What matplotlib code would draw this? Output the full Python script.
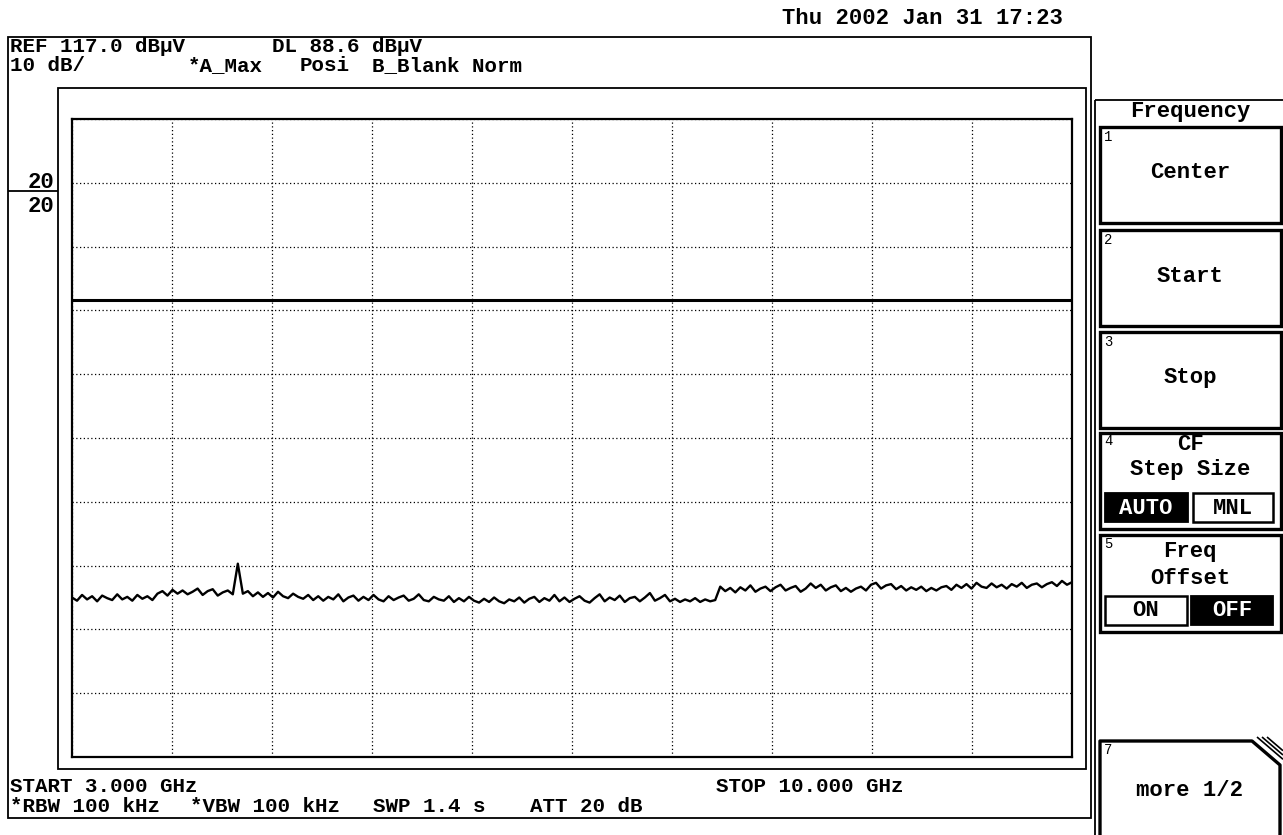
import numpy as np
import matplotlib
matplotlib.use("Agg")
import matplotlib.pyplot as plt
from matplotlib.patches import Rectangle

W, H = 1283, 835
MONO = "Liberation Mono"

REF_LEVEL = 117.0
DB_PER_DIV = 10.0
DIVISIONS = 10
DISPLAY_LINE = 88.6
START_GHZ = 3.0
STOP_GHZ = 10.0

# max-hold trace, dBuV (evenly spaced sweep points)
TRACE_DBUV = [
    42.0, 41.5, 42.4, 41.7, 42.2, 41.4, 42.3, 41.9, 41.6, 42.5,
    41.7, 42.1, 41.5, 42.4, 41.8, 42.2, 41.6, 42.6,
    43.0, 42.3, 43.2, 42.6, 43.1, 42.5, 42.9, 43.4, 42.4, 43.0,
    43.3, 42.3, 42.8, 43.1, 42.5,
    47.3,
    42.6, 43.0, 42.2, 42.8, 42.1, 42.7, 42.0, 42.9, 42.2, 41.9,
    42.6, 42.1,
    41.8, 42.4, 41.6, 42.2, 41.5, 42.1, 41.7, 42.5, 41.4, 42.0,
    42.3, 41.5, 42.1, 41.6, 42.4, 41.7, 41.4, 42.2, 41.6, 42.0,
    42.3, 41.5, 41.8, 42.5, 41.6, 41.4, 42.1, 41.7, 41.5, 42.2,
    41.3, 41.9, 41.4, 42.1, 41.5, 41.2, 41.8, 41.3, 42.0, 41.4,
    41.1, 41.7,
    41.4, 42.0, 41.2, 41.8, 42.1, 41.3, 41.9, 41.5, 42.4, 41.4,
    42.0, 41.3, 41.8, 42.2, 41.5, 41.2, 41.9, 42.5, 41.4, 42.0,
    41.6, 42.3, 41.3, 41.9, 42.1, 41.4, 42.0, 42.7, 41.5, 41.9,
    42.4, 41.4, 41.8, 41.3, 41.7, 41.4, 41.9, 41.3, 41.7, 41.4,
    41.6,
    43.7, 43.0, 43.5, 42.8, 43.6, 43.1, 43.9, 42.9, 43.4, 43.7,
    43.0, 43.6, 44.0, 43.1, 43.5, 43.8, 42.9, 43.4, 44.2, 43.5,
    44.0, 43.1, 43.6, 43.9, 43.0, 43.5, 42.9, 43.4, 43.7, 43.1,
    44.0, 44.3, 43.4, 43.9, 44.1, 43.3, 43.8, 43.1, 43.6, 43.2,
    43.7, 43.0, 43.5, 43.1, 43.6, 43.8, 43.2, 44.0, 43.5, 44.1,
    43.4, 44.3, 43.7, 43.5, 44.2, 43.6, 44.0, 43.4, 44.1, 43.7,
    44.3, 43.5, 44.0, 44.2, 43.6, 44.1, 44.4, 43.8, 44.6, 44.0,
    44.4,
]

DATE_TEXT = "Thu 2002 Jan 31 17:23"
HEADER_TEXT = [("REF 117.0 dBµV", 10, 52), ("DL 88.6 dBµV", 272, 52),
               ("10 dB/", 10, 71), ("*A_Max", 188, 71), ("Posi", 300, 71),
               ("B_Blank Norm", 372, 71)]
FOOTER_TEXT = [("START 3.000 GHz", 10, 792), ("STOP 10.000 GHz", 716, 792),
               ("*RBW 100 kHz", 10, 812), ("*VBW 100 kHz", 190, 812),
               ("SWP 1.4 s", 373, 812), ("ATT 20 dB", 530, 812)]
SOFTKEYS = [("1", "Center", 127, 223), ("2", "Start", 230, 326),
            ("3", "Stop", 332, 428)]


fig = plt.figure(figsize=(W / 100, H / 100), dpi=100)
ov = fig.add_axes([0, 0, 1, 1])
ov.set_xlim(0, W)
ov.set_ylim(H, 0)
ov.axis("off")


def box(x0, y0, x1, y1, lw=1.3, face="none"):
    ov.add_patch(Rectangle((x0, y0), x1 - x0, y1 - y0, linewidth=lw,
                           edgecolor="black", facecolor=face))


def line(xs, ys, lw=1.3):
    ov.plot(xs, ys, color="black", linewidth=lw, solid_capstyle="butt")


def label(x, y, s, size=16, ha="left", va="baseline", color="black", weight="bold"):
    ov.text(x, y, s, fontsize=size, family=MONO, fontweight=weight,
            ha=ha, va=va, color=color)


# screen frames
box(8, 37, 1091, 818)
box(58, 88, 1086, 769)
line([1095, 1095], [100, 835])
line([1095, 1283], [100, 100])
line([8, 58], [191, 191])

label(1063, 24, DATE_TEXT, ha="right")
for text, x, y in HEADER_TEXT + FOOTER_TEXT:
    label(x, y, text, size=15)
label(54, 188, "20", ha="right")
label(54, 212, "20", ha="right")

# soft key panel
label(1190, 111, "Frequency", va="center", ha="center")
for num, name, top, bottom in SOFTKEYS:
    box(1100, top, 1281, bottom, lw=2.4)
    label(1104, top + 10, num, size=10, va="center", weight="normal")
    label(1190, (top + bottom) / 2 - 2, name, va="center", ha="center")

box(1100, 433, 1281, 529, lw=2.4)
label(1104, 441, "4", size=10, va="center", weight="normal")
label(1190, 445, "CF", va="center", ha="center")
label(1190, 470, "Step Size", va="center", ha="center")
box(1105, 493, 1188, 522, lw=1.3, face="black")
box(1193, 493, 1273, 522, lw=1.8)
label(1146, 508, "AUTO", va="center", ha="center", color="white")
label(1233, 508, "MNL", va="center", ha="center")

box(1100, 535, 1281, 632, lw=2.4)
label(1104, 544, "5", size=10, va="center", weight="normal")
label(1190, 552, "Freq", va="center", ha="center")
label(1190, 579, "Offset", va="center", ha="center")
box(1105, 596, 1187, 625, lw=1.8)
box(1191, 596, 1273, 625, lw=1.3, face="black")
label(1146, 611, "ON", va="center", ha="center")
label(1232, 611, "OFF", va="center", ha="center", color="white")

line([1100, 1100, 1252, 1280, 1280], [840, 741, 741, 765, 840], lw=2.4)
for k in range(3):
    x0 = 1257 + 5 * k
    line([x0, 1283], [737, 737 + (1283 - x0) * 0.857], lw=1.2)
label(1104, 750, "7", size=10, va="center", weight="normal")
label(1190, 790, "more 1/2", va="center", ha="center")

# graticule and trace
ax = fig.add_axes([72 / W, 1 - 757 / H, 1000 / W, 638 / H])
bottom = REF_LEVEL - DIVISIONS * DB_PER_DIV
ax.set_xlim(START_GHZ, STOP_GHZ)
ax.set_ylim(bottom, REF_LEVEL)
ax.set_xticks(np.linspace(START_GHZ, STOP_GHZ, DIVISIONS + 1))
ax.set_yticks(np.linspace(bottom, REF_LEVEL, DIVISIONS + 1))
ax.tick_params(length=0, labelbottom=False, labelleft=False)
ax.grid(color="black", linestyle=(0, (1, 2)), linewidth=0.9)
for spine in ax.spines.values():
    spine.set_linewidth(1.6)

freq = np.linspace(START_GHZ, STOP_GHZ, len(TRACE_DBUV))
ax.axhline(DISPLAY_LINE, color="black", linewidth=2.2)
ax.plot(freq, TRACE_DBUV, color="black", linewidth=1.7)

fig.savefig("out.png", dpi=100)
